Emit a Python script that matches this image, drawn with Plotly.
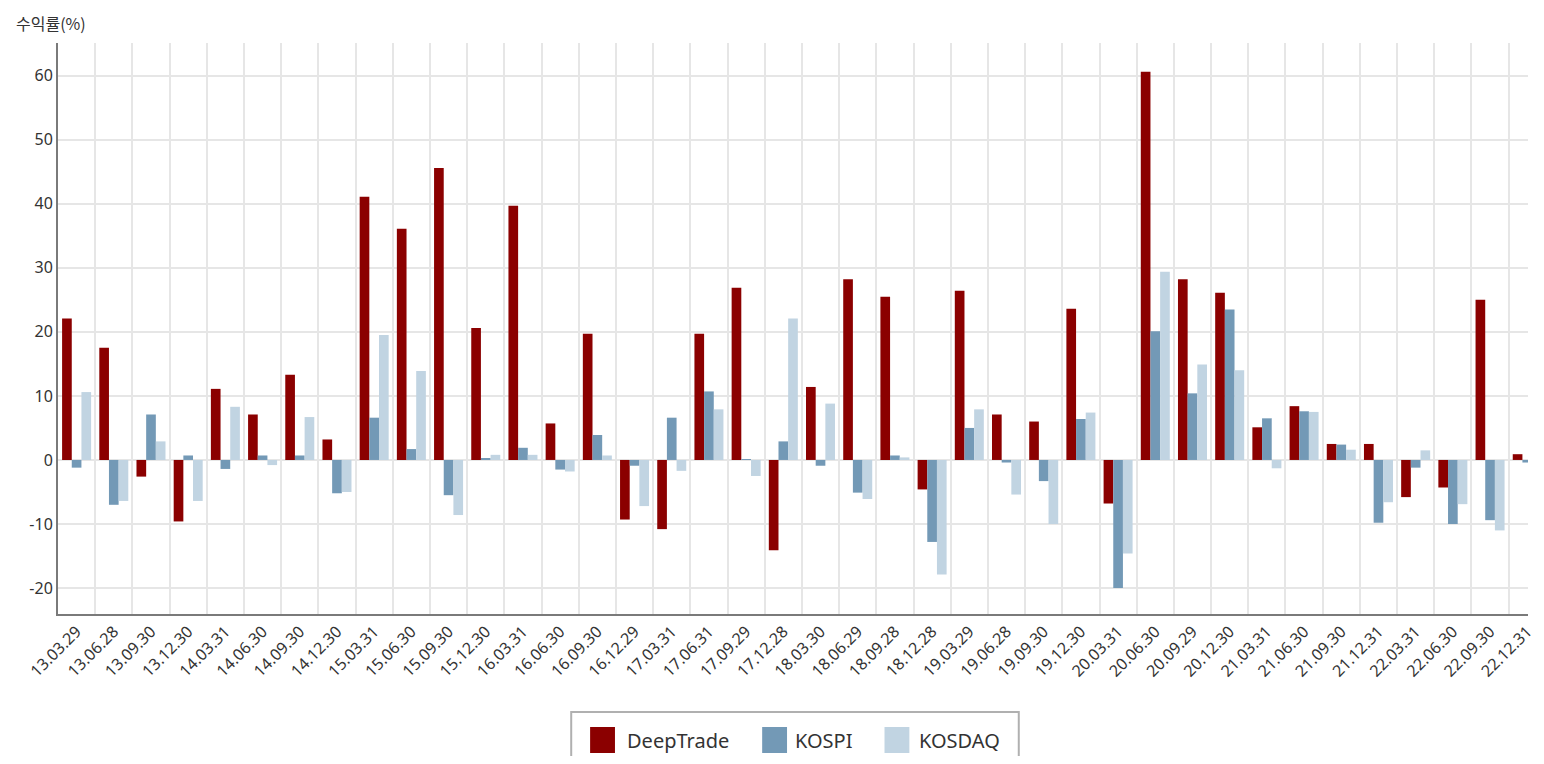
import plotly.graph_objects as go

dates = ["13.03.29", "13.06.28", "13.09.30", "13.12.30", "14.03.31", "14.06.30", "14.09.30", "14.12.30",
         "15.03.31", "15.06.30", "15.09.30", "15.12.30", "16.03.31", "16.06.30", "16.09.30", "16.12.29",
         "17.03.31", "17.06.31", "17.09.29", "17.12.28", "18.03.30", "18.06.29", "18.09.28", "18.12.28",
         "19.03.29", "19.06.28", "19.09.30", "19.12.30", "20.03.31", "20.06.30", "20.09.29", "20.12.30",
         "21.03.31", "21.06.30", "21.09.30", "21.12.31", "22.03.31", "22.06.30", "22.09.30", "22.12.31"]

deeptrade = [22.1, 17.5, -2.6, -9.6, 11.1, 7.1, 13.3, 3.2, 41.1, 36.1, 45.6, 20.6, 39.7, 5.7, 19.7, -9.3,
             -10.8, 19.7, 26.9, -14.1, 11.4, 28.2, 25.5, -4.6, 26.4, 7.1, 6.0, 23.6, -6.8, 60.6, 28.2, 26.1,
             5.1, 8.4, 2.5, 2.5, -5.8, -4.3, 25.0, 0.9]
kospi = [-1.2, -7.0, 7.1, 0.7, -1.4, 0.7, 0.7, -5.2, 6.6, 1.7, -5.5, 0.25, 1.9, -1.5, 3.9, -0.9,
         6.6, 10.7, 0.15, 2.9, -0.9, -5.1, 0.7, -12.8, 5.0, -0.4, -3.3, 6.4, -20.0, 20.1, 10.4, 23.5,
         6.5, 7.6, 2.4, -9.8, -1.2, -10.0, -9.4, -0.4]
kosdaq = [10.6, -6.4, 2.9, -6.4, 8.3, -0.8, 6.7, -5.0, 19.5, 13.9, -8.6, 0.8, 0.8, -1.8, 0.7, -7.2,
          -1.7, 7.9, -2.5, 22.1, 8.8, -6.1, 0.4, -17.9, 7.9, -5.4, -10.0, 7.4, -14.6, 29.4, 14.9, 14.0,
          -1.3, 7.5, 1.6, -6.6, 1.5, -6.9, -11.0, -1.0]

y_ticks = [-20, -10, 0, 10, 20, 30, 40, 50, 60]
y_tick_labels = ["-20", "-10", "0", "10", "20", "30", "40", "50", "60"]

series_names = ["DeepTrade", "KOSPI", "KOSDAQ"]
series_colors = ["#8b0000", "#7399b6", "#c1d4e2"]
series_values = [deeptrade, kospi, kosdaq]

OFF = 8  # default body margin of the page
W, H = 1544 - 2 * OFF, 764 - 2 * OFF
L, R, T, B = 50, 0, 35, 142
pw, ph = W - L - R, H - T - B

def px_x(x):
    return (x - OFF - L) / pw

def px_y(y):
    return (H - B - (y - OFF)) / ph

fig = go.Figure()
for name, color, vals in zip(series_names, series_colors, series_values):
    fig.add_trace(go.Bar(
        x=dates, y=vals, name=name, marker_color=color,
        marker_line_width=0, showlegend=False,
    ))

FONT = "Noto Sans"
fig.update_layout(
    width=W, height=H,
    margin=dict(l=L, r=R, t=T, b=B),
    paper_bgcolor="white", plot_bgcolor="white",
    barmode="group", bargap=0.22, bargroupgap=0,
    font=dict(family=FONT, color="#333333"),
    xaxis=dict(
        type="category", range=[-0.5, 39.02], tickangle=-45,
        tickson="boundaries", ticks="", showgrid=True, gridcolor="#e6e6e6", gridwidth=2,
        showline=True, linecolor="#7a7a7a", linewidth=2,
        tickfont=dict(size=16, color="#333333", family=FONT),
    ),
    yaxis=dict(
        range=[-24.05, 65.1], tickvals=y_ticks, ticktext=y_tick_labels,
        showgrid=True, gridcolor="#e6e6e6", gridwidth=2, zeroline=False,
        showline=True, linecolor="#7a7a7a", linewidth=2, ticks="",
        tickfont=dict(size=16, color="#333333", family=FONT),
    ),
)

# title annotation
fig.add_annotation(text="수익률(%)", xref="paper", yref="paper", x=px_x(14), y=px_y(23),
                   xanchor="left", yanchor="middle", showarrow=False,
                   font=dict(size=16, family="Noto Sans CJK KR", color="#333333"))

# legend box
fig.add_shape(type="rect", xref="paper", yref="paper",
              x0=px_x(574), x1=px_x(1024), y0=px_y(790), y1=px_y(712),
              line=dict(color="#b0b0b0", width=2), fillcolor="white")
sq_x = [593, 766, 889]
tx_x = [628, 797, 922]
for name, color, sx, tx in zip(series_names, series_colors, sq_x, tx_x):
    fig.add_shape(type="rect", xref="paper", yref="paper",
                  x0=px_x(sx), x1=px_x(sx + 25), y0=px_y(753), y1=px_y(727),
                  line=dict(width=0), fillcolor=color)
    fig.add_annotation(text=name, xref="paper", yref="paper", x=px_x(tx), y=px_y(740),
                       xanchor="left", yanchor="middle", showarrow=False,
                       font=dict(size=20, family=FONT, color="#333333"))

fig.write_html("out.html", config={"displayModeBar": False})
